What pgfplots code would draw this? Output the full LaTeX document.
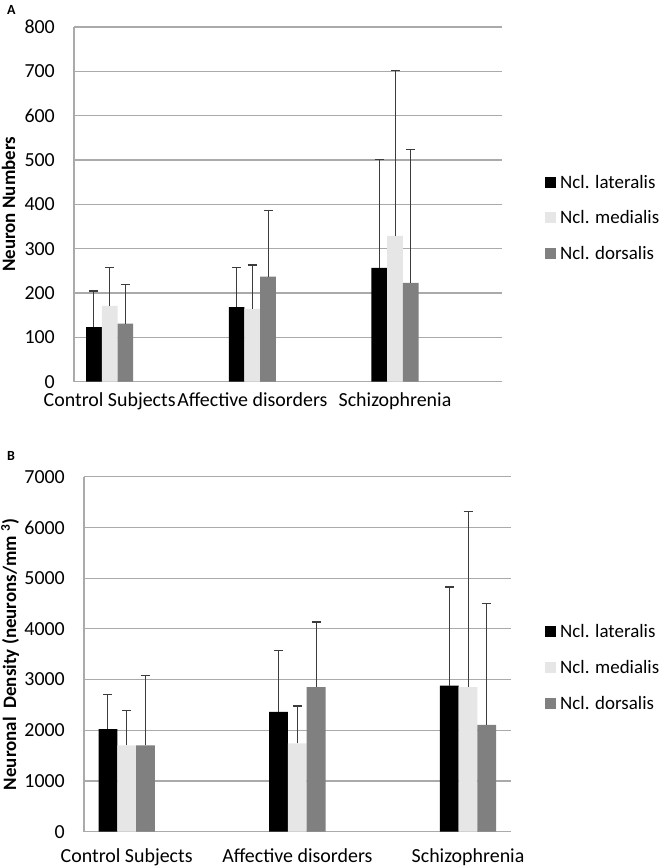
\documentclass[border=0pt]{standalone}
\usepackage{pgfplots}
\pgfplotsset{compat=1.18}
\usepackage{fontspec}
\setmainfont{Carlito}
\definecolor{barlight}{RGB}{230,230,230}
\definecolor{bardark}{RGB}{128,128,128}
\definecolor{gridgray}{RGB}{170,170,170}
\definecolor{errgray}{RGB}{60,60,60}
\pgfplotsset{
  panel/.style={
    scale only axis,
    anchor=south west,
    ymin=0,
    axis x line=bottom, axis y line=left,
    axis line style={draw=gridgray, line width=1.2bp, -},
    ymajorgrids, grid style={draw=gridgray, line width=1.2bp},
    major tick length=0pt,
    xtick={0,1,2},
    xticklabels={Control Subjects, Affective disorders, Schizophrenia},
    tick label style={font=\fontsize{20}{24}\selectfont},
    /pgf/number format/assume math mode=true,
    /pgf/number format/1000 sep={},
    yticklabel style={inner sep=0pt, anchor=east, xshift=-19bp},
    xticklabel style={inner sep=0pt, anchor=north},
    label style={font=\bfseries\fontsize{19}{22}\selectfont},
    legend cell align=left,
    legend style={draw=none, fill=none, inner sep=0pt, anchor=west,
      nodes={inner sep=0pt, minimum height=35.8bp},
      font=\fontsize{19}{22}\selectfont, row sep=0pt},
  },
  sq/.style={ybar, bar width=0.11, bar shift=0pt, draw=none,
    legend image code/.code={\fill[##1] (0bp,-5.5bp) rectangle (11bp,5.5bp); \path (15bp,0bp);},
    error bars/.cd, y dir=plus, y explicit,
    error bar style={draw=errgray, line width=1bp},
    error mark options={draw=errgray, line width=1.2bp, mark size=4.5bp, rotate=90}},
}
\begin{document}
\begin{tikzpicture}[x=1bp,y=1bp]
\path[use as bounding box] (0,0) rectangle (661,867);
\node[anchor=north west, inner sep=0pt, font=\bfseries\fontsize{14}{16}\selectfont] at (7,862) {A};
\node[anchor=north west, inner sep=0pt, font=\bfseries\fontsize{14}{16}\selectfont] at (7,416) {B};
% Panel A
\begin{axis}[panel, at={(74bp,485.3bp)}, width=428bp, height=354.7bp,
  xmin=-0.25, xmax=2.75, ymax=800, ytick={0,100,...,800},
  xticklabel style={yshift=-11bp},
  ylabel={Neuron Numbers},
  ylabel style={at={(axis description cs:-0.153,0.5)}, anchor=center},
  legend style={at={(axis description cs:1,0.4615)}, xshift=43bp}]
\addplot[fill=black, sq] coordinates {(-0.11,123) +- (0,81.5) (0.89,168) +- (0,90) (1.89,256.7) +- (0,244)};
\addplot[fill=barlight, sq] coordinates {(0,171) +- (0,86) (1,164) +- (0,99) (2,328.7) +- (0,374)};
\addplot[fill=bardark, sq] coordinates {(0.11,131) +- (0,88) (1.11,237) +- (0,150) (2.11,223) +- (0,301)};
\legend{Ncl. lateralis, Ncl. medialis, Ncl. dorsalis}
\end{axis}
% Panel B
\begin{axis}[panel, at={(84bp,35.3bp)}, width=426.7bp, height=355bp,
  xmin=-0.25, xmax=2.25, ymax=7000, ytick={0,1000,...,7000},
  xticklabel style={yshift=-17bp},
  ylabel={Neuronal~ Density (neurons/mm \textsuperscript{3})},
  ylabel style={at={(axis description cs:-0.173,0.5)}, anchor=center},
  legend style={at={(axis description cs:1,0.462)}, xshift=34.3bp}]
\addplot[fill=black, sq] coordinates {(-0.11,2024) +- (0,687) (0.89,2365) +- (0,1203) (1.89,2880) +- (0,1946)};
\addplot[fill=barlight, sq] coordinates {(0,1703) +- (0,687) (1,1741) +- (0,736) (2,2853) +- (0,3459)};
\addplot[fill=bardark, sq] coordinates {(0.11,1703) +- (0,1375) (1.11,2851) +- (0,1282) (2.11,2104) +- (0,2393)};
\legend{Ncl. lateralis, Ncl. medialis, Ncl. dorsalis}
\end{axis}
\end{tikzpicture}
\end{document}
